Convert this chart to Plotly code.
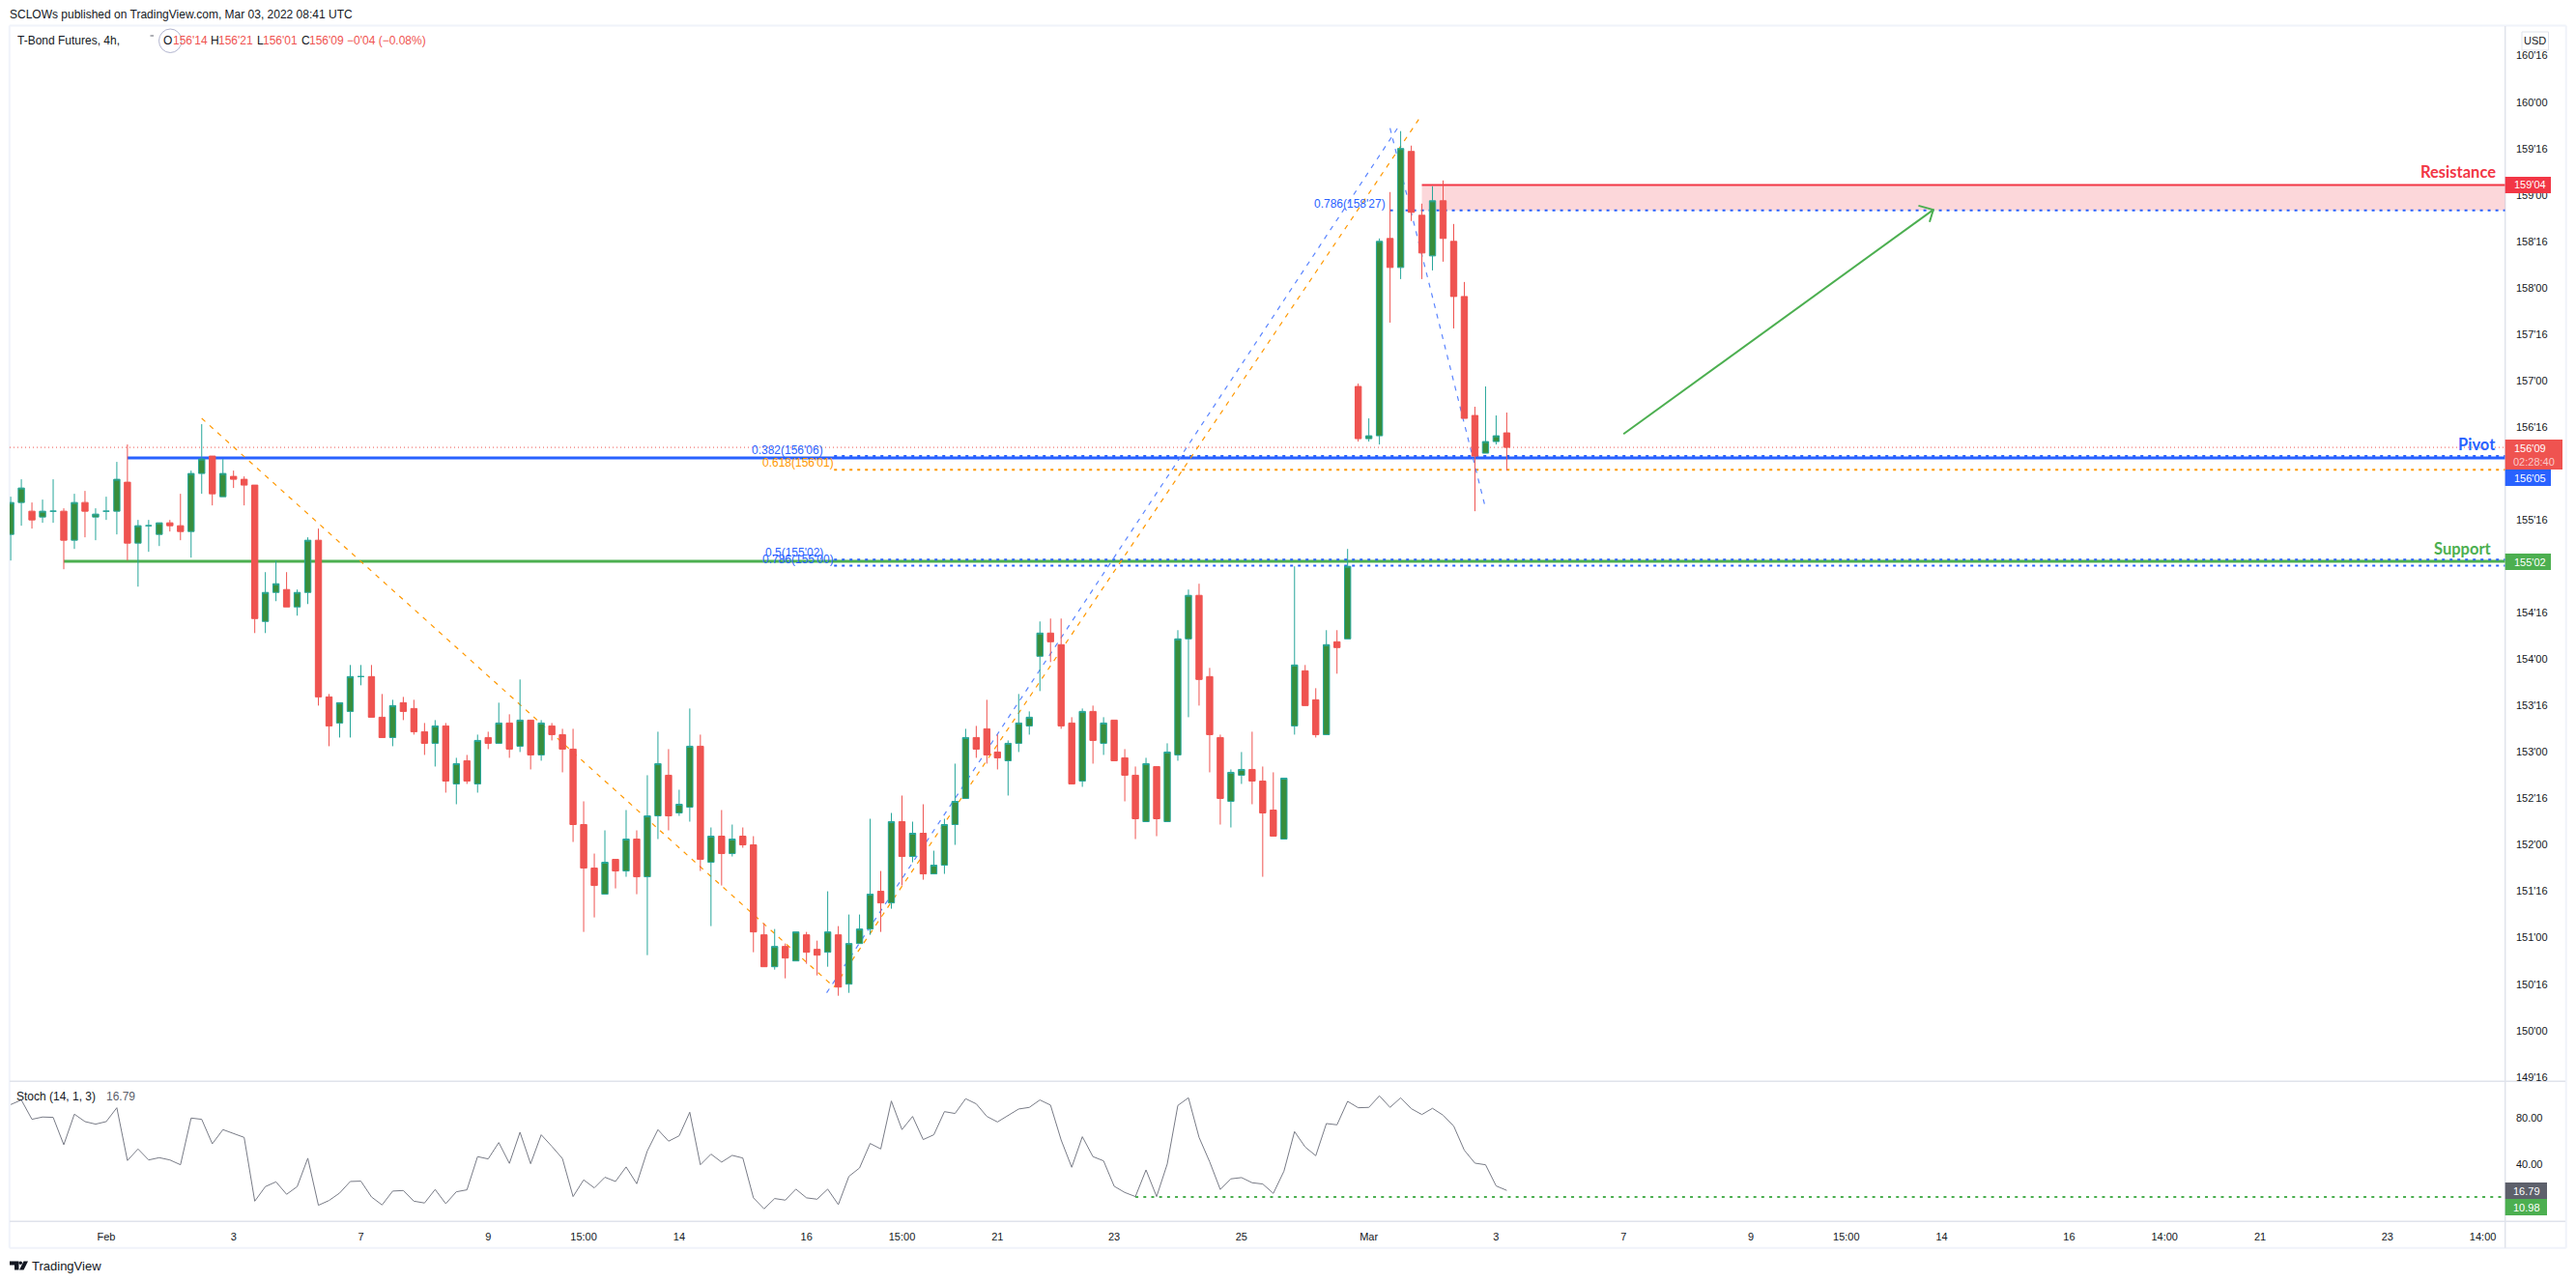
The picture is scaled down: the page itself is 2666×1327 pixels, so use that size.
import plotly.graph_objects as go
import numpy as np

# Prices are quoted in 32nds of a point, as T-Bond futures are (159'04 = 159*32 + 4).
opens_32 = [4971,4982,4979,4977,4979,4979,4969,4982,4977,4979,4979,4989,4968,4974,4971,4975,4974,4972,4992,4998,
            4984,4991,4990,4988,4941,4951,4952,4946,4951,4969,4915,4906,4910,4922,4922,4908,4901,4913,4911,4903,
            4899,4905,4885,4893,4885,4901,4899,4906,4898,4907,4895,4905,4902,4897,4871,4856,4847,4859,4855,4866,
            4853,4874,4888,4875,4877,4898,4858,4867,4861,4867,4864,4833,4822,4829,4824,4833,4828,4827,4833,4816,
            4830,4835,4848,4844,4872,4860,4868,4854,4857,4871,4880,4901,4904,4896,4893,4899,4905,4929,4937,4933,
            4906,4886,4910,4899,4907,4894,4888,4872,4891,4872,4895,4935,4950,4922,4901,4879,4888,4890,4886,4876,
            4866,4905,4924,4914,4902,4934,4935,5022,5004,5005,5073,5063,5103,5081,5067,5086,5072,5053,5012,4999,
            5003,5006]
highs_32 = [4984,4990,4982,4983,4990,4980,4985,4986,4980,4984,4996,5002,4976,4976,4975,4976,4985,4993,5009,4998,
            4997,4993,4991,4988,4958,4962,4958,4952,4970,4973,4916,4913,4926,4926,4926,4916,4914,4915,4914,4906,
            4907,4906,4894,4895,4902,4903,4913,4909,4921,4907,4907,4906,4904,4904,4879,4861,4869,4859,4876,4869,
            4888,4903,4897,4883,4911,4902,4870,4876,4871,4870,4867,4837,4835,4830,4834,4834,4831,4848,4836,4840,
            4840,4873,4855,4875,4881,4872,4878,4862,4873,4892,4904,4905,4914,4902,4900,4916,4910,4941,4942,4942,
            4908,4911,4912,4908,4907,4897,4891,4894,4891,4899,4938,4952,4954,4925,4902,4890,4896,4903,4891,4889,
            4887,4960,4926,4918,4938,4938,4966,5023,5011,5073,5089,5110,5105,5085,5091,5093,5078,5058,5015,5022,
            5012,5013]
lows_32 = [4962,4974,4973,4975,4975,4959,4966,4970,4969,4976,4971,4962,4953,4965,4967,4972,4969,4963,4985,4981,
           4984,4987,4981,4937,4937,4948,4946,4943,4947,4912,4898,4901,4901,4919,4908,4901,4898,4907,4902,4895,
           4891,4882,4878,4885,4882,4897,4899,4894,4896,4890,4893,4900,4889,4865,4834,4839,4847,4849,4853,4847,
           4826,4866,4869,4874,4872,4855,4836,4850,4860,4863,4827,4822,4821,4818,4824,4823,4819,4822,4812,4813,
           4830,4833,4834,4842,4850,4858,4852,4854,4854,4864,4880,4894,4892,4890,4881,4896,4902,4917,4927,4904,
           4885,4884,4892,4895,4893,4879,4866,4872,4867,4872,4893,4908,4912,4889,4871,4870,4885,4878,4853,4867,
           4866,4902,4912,4901,4902,4923,4935,5003,5003,5002,5044,5059,5079,5059,5062,5065,5042,5011,4979,4999,
           5002,4993]
closes_32 = [4982,4987,4976,4979,4979,4969,4982,4979,4978,4979,4990,4968,4974,4974,4975,4974,4972,4992,4997,4985,
             4992,4990,4988,4942,4951,4954,4946,4951,4969,4915,4905,4913,4922,4922,4908,4901,4912,4910,4903,4899,
             4905,4886,4892,4886,4900,4899,4906,4897,4907,4895,4906,4902,4897,4871,4856,4850,4858,4855,4866,4853,
             4874,4892,4874,4878,4898,4859,4867,4861,4866,4864,4834,4822,4829,4825,4834,4827,4826,4834,4815,4830,
             4835,4847,4844,4872,4860,4868,4854,4857,4871,4879,4901,4897,4895,4894,4899,4906,4908,4937,4934,4905,
             4885,4910,4900,4906,4893,4888,4873,4892,4873,4896,4935,4950,4921,4902,4880,4889,4890,4886,4875,4867,
             4887,4926,4912,4902,4933,4932,4960,5004,5005,5072,5063,5104,5082,5068,5086,5073,5053,5011,4998,5003,
             5005,5001]
stoch = [91.8,95.8,78.9,80.9,80.6,56.7,83.4,76.9,74.7,76.9,89.0,42.9,53.0,43.4,45.4,43.4,39.2,80.0,78.9,57.5,
         69.9,66.5,63.1,7.4,20.1,24.3,13.4,20.1,44.9,3.8,8.0,14.5,24.6,24.9,11.1,4.1,16.2,16.7,7.4,5.8,
         17.6,5.2,15.6,17.3,46.3,44.3,58.6,40.4,67.6,40.1,65.4,55.3,44.6,11.4,26.0,19.0,28.3,24.6,37.3,22.6,
         51.3,69.9,59.8,64.5,85.1,39.2,48.5,41.5,47.4,45.1,10.3,0.7,9.7,8.3,17.9,10.3,9.1,17.9,4.4,29.1,
         36.4,57.8,53.0,94.9,69.9,81.4,61.2,65.4,85.6,84.0,96.9,92.4,81.4,76.6,82.0,87.9,89.3,95.8,91.3,60.9,
         37.0,63.7,46.3,42.6,20.4,15.0,11.4,34.7,11.4,39.8,91.0,97.7,63.1,41.8,17.6,26.9,28.0,23.5,22.4,14.2,
         33.6,68.2,54.7,47.1,75.2,74.1,94.6,89.0,89.3,99.4,89.3,97.7,88.2,83.1,88.5,82.5,73.0,51.9,40.6,39.2,
         20.7,16.79]

x_tick_pos = [9,21,33,45,54,63,75,84,93,104,116,128,140,152,164,173,182,194,203,212,224,233]
x_tick_text = ["Feb","3","7","9","15:00","14","16","15:00","21","23","25","Mar","3","7","9","15:00","14","16","14:00","21","23","14:00"]
y_tick_32 = [5136-16*k for k in range(23)]
y_tick_text = ["160'16","160'00","159'16","159'00","158'16","158'00","157'16","157'00","156'16","156'00","155'16","155'00",
               "154'16","154'00","153'16","153'00","152'16","152'00","151'16","151'00","150'16","150'00","149'16"]
stoch_ticks = [80, 40]
stoch_tick_text = ["80.00", "40.00"]

resistance_32 = 5091.4
resistance_low_32 = 5082.7
pivot_32 = 4997.4
support_32 = 4961.7
last_32 = 5001
fib_382_32 = 4998
fib_618_32 = 4993.3
fib_50_32 = 4962.3
fib_786_32 = 4960.2
stoch_level = 10.98

orange_down = ([18, 77.6], [5011, 4815])
orange_up = ([77.6, 132.7], [4815, 5114])
blue_up = ([76.9, 130.7], [4813, 5111])
blue_down = ([130.0, 138.9], [5111, 4981.5])
arrow_shaft = ([152, 181.2], [5005.6, 5082.9])
arrow_head = ([179.8, 181.2, 180.85], [5084.3, 5082.9, 5078.7])

W, H = 2666, 1327
PX0, PX1 = 10.0, 2592.7
PY0, PY1, PY2, PY3 = 27.0, 1119.3, 1264.3, 1291.7
X_MIN, X_MAX = -0.1, 235.1
fx = lambda p: p / W
fy = lambda p: 1 - p / H
P = lambda v: np.asarray(v, dtype=float) / 32

BLUE, GREEN, RED, ORANGE = "#2962ff", "#4caf50", "#f23645", "#ff9800"
CRED = "#ef5350"
TXT = "#131722"
FONT = "Liberation Sans"
xs = list(range(len(closes_32)))

fig = go.Figure()
fig.add_trace(go.Candlestick(
    x=xs, open=P(opens_32), high=P(highs_32), low=P(lows_32), close=P(closes_32),
    whiskerwidth=0, xaxis="x", yaxis="y", showlegend=False,
    increasing=dict(line=dict(color="#26a69a", width=1), fillcolor="#388e3c"),
    decreasing=dict(line=dict(color=CRED, width=1), fillcolor=CRED),
))
fig.add_trace(go.Scatter(x=xs, y=stoch, mode="lines", line=dict(color="#787b86", width=1),
                         xaxis="x", yaxis="y2", showlegend=False))
for seg in (arrow_shaft, arrow_head):
    fig.add_trace(go.Scatter(x=seg[0], y=P(seg[1]), mode="lines", line=dict(color=GREEN, width=2),
                             xaxis="x", yaxis="y", showlegend=False))

shapes = []
def hline(x0, v, color, width, dash="solid"):
    shapes.append(dict(type="line", xref="x", yref="y", x0=x0, x1=X_MAX, y0=v/32, y1=v/32,
                       line=dict(color=color, width=width, dash=dash), layer="below"))
def seg(s, color):
    shapes.append(dict(type="line", xref="x", yref="y", x0=s[0][0], x1=s[0][1], y0=s[1][0]/32, y1=s[1][1]/32,
                       line=dict(color=color, width=1.2, dash="5px,6px"), layer="below"))

shapes.append(dict(type="rect", xref="x", yref="y", x0=133, x1=X_MAX, y0=resistance_low_32/32, y1=resistance_32/32,
                   fillcolor="rgba(242,54,69,0.2)", line=dict(width=0), layer="below"))
hline(X_MIN, last_32, CRED, 1, "1px,3px")
hline(5, support_32, GREEN, 3)
hline(11, pivot_32, BLUE, 3)
hline(133, resistance_32, RED, 2)
hline(130, resistance_low_32, BLUE, 2, "3px,5px")
hline(77.6, fib_382_32, BLUE, 2, "3px,5px")
hline(77.6, fib_618_32, ORANGE, 2, "3px,5px")
hline(77.6, fib_50_32, BLUE, 2, "3px,5px")
hline(77.6, fib_786_32, BLUE, 2, "3px,5px")
seg(orange_down, ORANGE); seg(orange_up, ORANGE); seg(blue_up, "#5b85ff"); seg(blue_down, "#5b85ff")
shapes.append(dict(type="line", xref="x", yref="y2", x0=106, x1=X_MAX, y0=stoch_level, y1=stoch_level,
                   line=dict(color=GREEN, width=2, dash="3px,5.2px"), layer="below"))

def prect(x0, y0, x1, y1, fill, line=None, lw=0, layer="above"):
    shapes.append(dict(type="rect", xref="paper", yref="paper", x0=fx(x0), x1=fx(x1), y0=fy(y0), y1=fy(y1),
                       fillcolor=fill, line=dict(color=line or "rgba(0,0,0,0)", width=lw), layer=layer))
def pline(x0, y0, x1, y1, color, w):
    shapes.append(dict(type="line", xref="paper", yref="paper", x0=fx(x0), x1=fx(x1), y0=fy(y0), y1=fy(y1),
                       line=dict(color=color, width=w), layer="below"))

# chart frame and pane separators
pline(9.8, 26.5, 2655.7, 26.5, "#f0f3fa", 2)
pline(9.8, 1291.7, 2655.7, 1291.7, "#f0f3fa", 2)
pline(9.8, 26.5, 9.8, 1291.7, "#f0f3fa", 2)
pline(2655.7, 26.5, 2655.7, 1291.7, "#f0f3fa", 2)
pline(PX1, PY0, PX1, PY3, "#e0e3eb", 1.5)
pline(PX0, PY1, 2655, PY1, "#e0e3eb", 1.5)
pline(PX0, PY2, 2655, PY2, "#e0e3eb", 1.5)

# axis price badges
prect(PX1, 183, 2640, 200, RED)
prect(PX1, 486, 2640, 503, BLUE)
prect(PX1, 455, 2652, 486, CRED)
prect(PX1, 573, 2640, 590, GREEN)
prect(PX1, 1224, 2636, 1241, "#5d606b")
prect(PX1, 1241, 2636, 1258, GREEN)
# USD badge
shapes.append(dict(type="rect", xref="paper", yref="paper", x0=fx(2610), x1=fx(2637.5), y0=fy(33), y1=fy(52),
                   fillcolor="white", line=dict(color="#e0e3eb", width=1), layer="above"))
# pulse circle round the O of the legend
shapes.append(dict(type="circle", xref="paper", yref="paper", x0=fx(164.5), x1=fx(188), y0=fy(30), y1=fy(54.5),
                   fillcolor="rgba(0,0,0,0)", line=dict(color="#b2b5cf", width=1), layer="above"))
# small tick beside the legend
shapes.append(dict(type="line", xref="paper", yref="paper", x0=fx(155.5), x1=fx(159), y0=fy(37), y1=fy(37),
                   line=dict(color="#5d606b", width=1), layer="above"))
# TradingView mark
def path(pts):
    return "M " + " L ".join(f"{fx(a):.6f},{fy(b):.6f}" for a, b in pts) + " Z"
shapes.append(dict(type="path", xref="paper", yref="paper", path=path([(10,1305.5),(19.5,1305.5),(19.5,1314.5),(15,1314.5),(15,1309.5),(10,1309.5)]),
                   fillcolor=TXT, line=dict(width=0), layer="above"))
shapes.append(dict(type="path", xref="paper", yref="paper", path=path([(24.5,1305.5),(29,1305.5),(24.5,1314.5),(20,1314.5)]),
                   fillcolor=TXT, line=dict(width=0), layer="above"))
shapes.append(dict(type="circle", xref="paper", yref="paper", x0=fx(19.5), x1=fx(23), y0=fy(1305.5), y1=fy(1309),
                   fillcolor=TXT, line=dict(width=0), layer="above"))

ann = []
def text(t, x, y, color=TXT, size=11, anchor="left", bold=False, family=FONT):
    ann.append(dict(text=f"<b>{t}</b>" if bold else t, x=fx(x), y=fy(y), xref="paper", yref="paper",
                    xanchor=anchor, yanchor="middle", showarrow=False, align=anchor,
                    font=dict(color=color, size=size, family=family), borderpad=0, borderwidth=0))

text("SCLOWs published on TradingView.com, Mar 03, 2022 08:41 UTC", 9.8, 14.7, size=12)
text("T-Bond Futures, 4h,", 17.9, 41.7, size=12)
text("O", 169, 41.7, size=12)
text("156'14", 178.6, 41.7, CRED, 12)
text("H", 218, 41.7, size=12)
text("156'21", 226, 41.7, CRED, 12)
text("L", 266, 41.7, size=12)
text("156'01", 272, 41.7, CRED, 12)
text("C", 312, 41.7, size=12)
text("156'09", 320, 41.7, CRED, 12)
text("\u22120'04 (\u22120.08%)", 359, 41.7, CRED, 12)
text("USD", 2623.8, 42, size=11, anchor="center")
text("0.382(156'06)", 852, 465.7, BLUE, 12, "right")
text("0.618(156'01)", 863, 478.7, ORANGE, 12, "right")
text("0.5(155'02)", 852, 571.7, BLUE, 12, "right")
text("0.786(155'00)", 863, 578.5, BLUE, 12, "right")
text("0.786(158'27)", 1434, 210.7, BLUE, 12, "right")
text("Resistance", 2583, 177.5, RED, 16.5, "right", True, "Lato")
text("Pivot", 2583, 460, BLUE, 16.5, "right", True, "Lato")
text("Support", 2579, 567.8, GREEN, 16.5, "right", True, "Lato")
text("159'04", 2618.3, 191.5, "white", 11, "center")
text("156'09", 2618.3, 463.5, "white", 11, "center")
text("02:28:40", 2622, 477.5, "rgba(255,255,255,0.7)", 11, "center")
text("156'05", 2618.3, 494.5, "white", 11, "center")
text("155'02", 2618.3, 581.5, "white", 11, "center")
text("16.79", 2614.5, 1232.5, "white", 11, "center")
text("10.98", 2614.5, 1249.5, "white", 11, "center")
text("Stoch (14, 1, 3)", 17, 1135, size=12)
text("16.79", 110, 1135, "#5d606b", 12)
text("TradingView", 33, 1310, size=13)

fig.update_layout(
    width=W, height=H, autosize=False, margin=dict(l=0, r=0, t=0, b=0, pad=0),
    paper_bgcolor="white", plot_bgcolor="white", showlegend=False, boxgap=0.42, boxgroupgap=0,
    font=dict(family=FONT, size=11, color=TXT),
    shapes=shapes, annotations=ann,
    xaxis=dict(domain=[fx(PX0), fx(PX1)], range=[X_MIN, X_MAX], anchor="y2", tickmode="array",
               tickvals=x_tick_pos, ticktext=x_tick_text, showgrid=False, zeroline=False, showline=False,
               ticks="outside", ticklen=5, tickcolor="rgba(0,0,0,0)", tickfont=dict(size=11, color=TXT, family=FONT),
               rangeslider=dict(visible=False), tickangle=0),
    yaxis=dict(domain=[fy(PY1), fy(PY0)], range=[4782.5/32, 5146.2/32], anchor="x", side="right", tickmode="array",
               tickvals=[v/32 for v in y_tick_32], ticktext=y_tick_text, showgrid=False, zeroline=False, showline=False,
               ticks="outside", ticklen=8, tickcolor="rgba(0,0,0,0)", tickfont=dict(size=11, color=TXT, family=FONT)),
    yaxis2=dict(domain=[fy(PY2), fy(PY1)], range=[-10.3, 112.07], anchor="x", side="right", tickmode="array",
                tickvals=stoch_ticks, ticktext=stoch_tick_text, showgrid=False, zeroline=False, showline=False,
                ticks="outside", ticklen=8, tickcolor="rgba(0,0,0,0)", tickfont=dict(size=11, color=TXT, family=FONT)),
)
fig.write_html("out.html", config={"displayModeBar": False},
               post_script="document.body.style.margin='0';document.body.style.overflow='hidden';")
